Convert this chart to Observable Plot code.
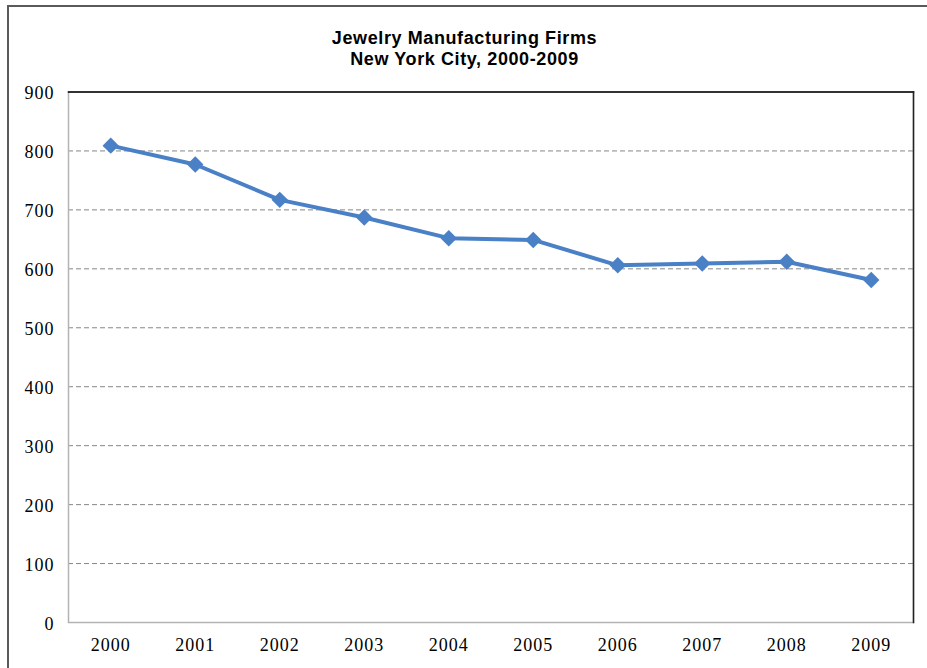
<!DOCTYPE html>
<html>
<head>
<meta charset="utf-8">
<script src="https://cdn.jsdelivr.net/npm/d3@7"></script>
<script src="https://cdn.jsdelivr.net/npm/@observablehq/plot@0.6"></script>
<style>
  html, body { margin: 0; padding: 0; background: #fff; }
  #wrap { position: relative; width: 927px; height: 668px; overflow: hidden; }
  #border { position: absolute; left: 7px; top: 5px; right: -10px; bottom: -10px;
            border-top: 2px solid #5a5a5a; border-left: 2px solid #5a5a5a; }
  #title { position: absolute; left: 0; width: 929px; top: 28px; text-align: center;
           font-family: "Liberation Sans", Arial, sans-serif; font-weight: bold;
           font-size: 18px; line-height: 21px; letter-spacing: 0.6px; color: #000; }
  #chart { position: absolute; left: 0; top: 0; }
  #chart svg text { letter-spacing: 1px; }
</style>
</head>
<body>
<div id="wrap">
  <div id="border"></div>
  <div id="title">Jewelry Manufacturing Firms<br>New York City, 2000-2009</div>
  <div id="chart"></div>
</div>
<script>
const years = ["2000","2001","2002","2003","2004","2005","2006","2007","2008","2009"];
const firms = [809, 777, 717, 687, 652, 649, 606, 609, 612, 581];
const yTicks = [0, 100, 200, 300, 400, 500, 600, 700, 800, 900];

const data = years.map((y, i) => ({year: y, firms: firms[i]}));
const lineColor = "#4a80c6";

const chart = Plot.plot({
  width: 927,
  height: 668,
  marginTop: 91.5,
  marginLeft: 68,
  marginRight: 14,
  marginBottom: 46,
  style: {fontFamily: "'Liberation Serif', 'Times New Roman', serif", fontSize: "18px", color: "#000", background: "transparent"},
  x: {type: "point", domain: years, padding: 0.5, round: false, label: null},
  y: {domain: [0, 900], label: null},
  marks: [
    Plot.gridY(yTicks.filter(d => d > 0 && d < 900), {stroke: "#868686", strokeOpacity: 1, strokeDasharray: "5,3", strokeWidth: 1}),
    Plot.frame({stroke: "#b3b3b3", strokeWidth: 1.5}),
    Plot.frame({anchor: "top", stroke: "#000", strokeWidth: 1.5}),
    Plot.frame({anchor: "right", stroke: "#222", strokeWidth: 1.5}),
    Plot.axisY({ticks: yTicks, tickSize: 0, tickPadding: 14, fontSize: 18, dy: 1.5, label: null}),
    Plot.axisX({tickSize: 0, tickPadding: 16, fontSize: 18, label: null}),
    Plot.line(data, {x: "year", y: "firms", stroke: lineColor, strokeWidth: 4, curve: "linear"}),
    Plot.dot(data, {x: "year", y: "firms", symbol: "diamond2", r: 7.4, fill: lineColor, stroke: "none"})
  ]
});
document.getElementById("chart").appendChild(chart);
</script>
</body>
</html>
